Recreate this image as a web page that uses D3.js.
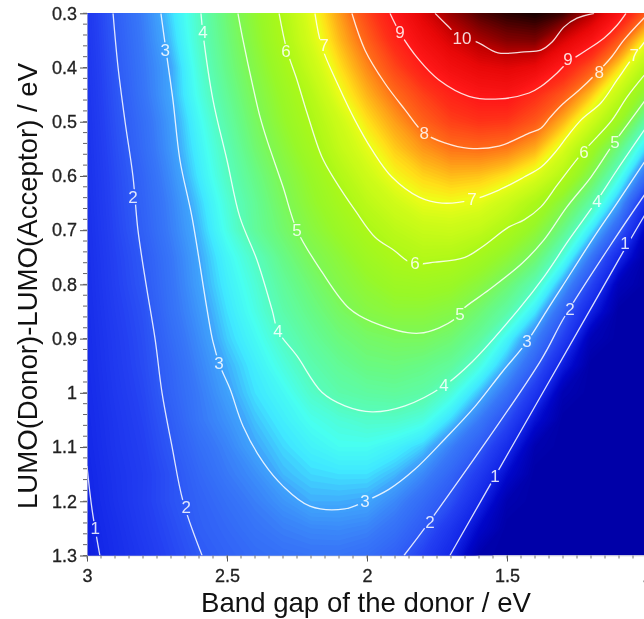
<!DOCTYPE html>
<html><head><meta charset="utf-8">
<script src="https://cdn.jsdelivr.net/npm/d3@7"></script>
<style>html,body{margin:0;padding:0;background:#fff;overflow:hidden}svg{display:block;filter:blur(0.6px)}</style>
</head><body><svg id="c" width="644" height="619"></svg>
<script>
const bandGaps = d3.range(21).map(i => +(3 - i * 0.1).toFixed(1));
const offsets = d3.range(21).map(j => +(0.3 + j * 0.05).toFixed(2));
const xTicks = [3, 2.5, 2, 1.5, 1];
const yTicks = [0.3, 0.4, 0.5, 0.6, 0.7, 0.8, 0.9, 1, 1.1, 1.2, 1.3];
const xTitle = "Band gap of the donor / eV";
const yTitle = "LUMO(Donor)-LUMO(Acceptor) / eV";
// efficiency; one row per LUMO offset, one column per band gap
const eta030 = [1.4,2.05,2.6,3.25,3.95,4.7,5.4,6.1,6.9,7.65,8.4,9.1,9.75,10.3,10.7,10.9,11,10.8,10.1,9.2,8.1];
const eta035 = [1.38,2,2.55,3.15,3.9,4.6,5.3,6,6.75,7.45,8.1,8.8,9.35,9.8,10.15,10.4,10.45,9.8,9.2,8.2,7];
const eta040 = [1.35,1.95,2.5,3,3.8,4.5,5.15,5.8,6.5,7.2,7.8,8.4,8.95,9.35,9.6,9.7,9.55,8.95,8.25,7.25,6.1];
const eta045 = [1.33,1.9,2.45,3,3.7,4.35,5,5.6,6.2,6.95,7.5,8,8.45,8.85,9.1,9.15,8.7,8.2,7.4,6.4,5.2];
const eta050 = [1.3,1.85,2.35,2.9,3.55,4.2,4.85,5.45,6,6.6,7.2,7.65,8.1,8.45,8.6,8.55,8.2,7.5,6.65,5.6,4.1];
const eta055 = [1.28,1.8,2.3,2.85,3.45,4.05,4.7,5.25,5.8,6.4,6.9,7.35,7.7,7.95,8,7.9,7.55,6.8,5.75,4.55,3.2];
const eta060 = [1.26,1.75,2.2,2.75,3.35,3.95,4.5,5.05,5.55,6.1,6.6,7.05,7.3,7.45,7.4,7.2,6.85,6.15,5,3.75,2.3];
const eta065 = [1.24,1.72,2.15,2.65,3.2,3.8,4.35,4.9,5.4,5.85,6.3,6.65,6.95,7,6.9,6.55,6,5.2,4.2,2.95,1.1];
const eta070 = [1.22,1.68,2.1,2.6,3.1,3.7,4.3,4.75,5.2,5.6,6,6.3,6.5,6.55,6.4,6,5.4,4.5,3.35,2.1,0.35];
const eta075 = [1.2,1.63,2,2.5,3,3.5,3.95,4.5,4.95,5.3,5.7,6,6.15,6.1,5.8,5.35,4.75,3.75,2.5,1.05,0];
const eta080 = [1.18,1.6,1.95,2.45,2.95,3.4,3.8,4.3,4.7,5.1,5.4,5.65,5.7,5.6,5.25,4.7,4.05,2.95,1.7,0.3,0];
const eta085 = [1.16,1.55,1.87,2.4,2.85,3.3,3.7,4.15,4.5,4.85,5.15,5.3,5.3,5.15,4.7,4.2,3.35,2.2,0.95,0,0];
const eta090 = [1.14,1.5,1.82,2.3,2.75,3.2,3.55,3.95,4.3,4.6,4.8,4.9,4.9,4.7,4.3,3.5,2.65,1.6,0.25,0,0];
const eta095 = [1.12,1.47,1.78,2.2,2.65,3.05,3.4,3.75,4.1,4.35,4.55,4.6,4.5,4.3,3.75,3,2.1,0.85,0,0,0];
const eta100 = [1.09,1.43,1.72,2.15,2.55,2.95,3.3,3.55,3.9,4.15,4.25,4.3,4.2,3.8,3.15,2.4,1.4,0.2,0,0,0];
const eta105 = [1.06,1.38,1.66,2.05,2.5,2.8,3.15,3.4,3.65,3.8,3.9,3.9,3.75,3.25,2.55,1.8,0.7,0,0,0,0];
const eta110 = [1.03,1.35,1.6,1.97,2.35,2.65,3,3.25,3.45,3.6,3.6,3.45,3.2,2.6,2.05,1.15,0.15,0,0,0,0];
const eta115 = [0.99,1.3,1.55,1.87,2.23,2.53,2.77,3.1,3.25,3.3,3.3,3.1,2.7,2.2,1.5,0.6,0,0,0,0,0];
const eta120 = [0.95,1.27,1.56,1.87,2.13,2.37,2.6,2.83,3.05,3.05,3,2.7,2.3,1.85,1.05,0.15,0,0,0,0,0];
const eta125 = [0.91,1.2,1.5,1.78,2.07,2.25,2.45,2.6,2.7,2.72,2.65,2.4,2,1.35,0.55,0,0,0,0,0,0];
const eta130 = [0.86,1.15,1.42,1.7,1.97,2.15,2.3,2.4,2.45,2.45,2.35,2.1,1.6,1,0.1,0,0,0,0,0,0];
const etaRows = [eta030,eta035,eta040,eta045,eta050,eta055,eta060,eta065,eta070,eta075,eta080,eta085,eta090,eta095,eta100,eta105,eta110,eta115,eta120,eta125,eta130];
// iso-efficiency lines as [band gap, offset] pairs
const iso1a = [[3,1.135],[2.982,1.215],[2.954,1.3]];
const iso1b = [[1.704,1.3],[1.543,1.154],[1.189,0.834],[1.075,0.731],[1,0.665]];
const iso2a = [[2.907,0.3],[2.889,0.4],[2.864,0.5],[2.836,0.6],[2.818,0.7],[2.789,0.8],[2.757,0.9],[2.732,1],[2.696,1.1],[2.657,1.2],[2.589,1.3]];
const iso2b = [[1.868,1.3],[1.779,1.239],[1.379,0.94],[1.297,0.862],[1.118,0.718],[1,0.628]];
const iso3 = [[2.736,0.3],[2.718,0.368],[2.693,0.46],[2.668,0.571],[2.625,0.676],[2.571,0.847],[2.55,0.906],[2.525,0.95],[2.489,0.993],[2.443,1.061],[2.371,1.128],[2.3,1.172],[2.204,1.209],[2.079,1.214],[2.007,1.2],[1.922,1.178],[1.829,1.141],[1.722,1.085],[1.614,1.025],[1.518,0.962],[1.429,0.906],[1.354,0.845],[1.304,0.805],[1.196,0.718],[1.107,0.65],[1,0.567]];
const iso4 = [[2.593,0.3],[2.586,0.336],[2.55,0.46],[2.5,0.571],[2.454,0.676],[2.393,0.755],[2.339,0.847],[2.318,0.886],[2.25,0.932],[2.161,0.999],[2.079,1.024],[1.982,1.035],[1.864,1.024],[1.725,0.987],[1.625,0.943],[1.457,0.845],[1.368,0.786],[1.279,0.718],[1.182,0.648],[1.107,0.589],[1,0.508]];
const iso5 = [[2.461,0.3],[2.443,0.349],[2.407,0.436],[2.382,0.491],[2.357,0.534],[2.3,0.62],[2.25,0.7],[2.161,0.777],[2.064,0.844],[1.982,0.869],[1.814,0.89],[1.686,0.864],[1.661,0.847],[1.564,0.81],[1.446,0.761],[1.368,0.718],[1.286,0.657],[1.2,0.602],[1.118,0.539],[1.05,0.491],[1,0.456]];
const iso6 = [[2.314,0.3],[2.286,0.368],[2.25,0.423],[2.214,0.484],[2.161,0.565],[2.114,0.608],[2.043,0.663],[1.971,0.713],[1.904,0.737],[1.839,0.761],[1.757,0.759],[1.65,0.75],[1.589,0.731],[1.493,0.694],[1.439,0.681],[1.379,0.657],[1.321,0.617],[1.232,0.558],[1.125,0.497],[1.071,0.454],[1,0.408]];
const iso7 = [[2.186,0.3],[2.161,0.362],[2.1,0.436],[2.043,0.497],[1.982,0.552],[1.911,0.602],[1.814,0.639],[1.732,0.65],[1.625,0.644],[1.529,0.626],[1.439,0.602],[1.379,0.584],[1.321,0.552],[1.286,0.528],[1.236,0.497],[1.164,0.465],[1.107,0.423],[1.057,0.386],[1,0.347]];
const iso8 = [[2.054,0.3],[2.007,0.368],[1.936,0.429],[1.864,0.478],[1.796,0.521],[1.722,0.539],[1.636,0.549],[1.529,0.545],[1.421,0.521],[1.379,0.512],[1.346,0.492],[1.3,0.467],[1.243,0.442],[1.179,0.41],[1.129,0.382],[1.082,0.349],[1,0.303]];
const iso9 = [[1.918,0.3],[1.882,0.336],[1.814,0.386],[1.743,0.423],[1.636,0.453],[1.529,0.458],[1.421,0.447],[1.379,0.435],[1.321,0.41],[1.286,0.392],[1.225,0.371],[1.154,0.346],[1.107,0.322],[1.075,0.3]];
const iso10 = [[1.757,0.3],[1.714,0.322],[1.668,0.344],[1.607,0.353],[1.532,0.373],[1.439,0.371],[1.379,0.368],[1.339,0.353],[1.296,0.325],[1.25,0.309],[1.189,0.3]];
const isoLines = [iso1a,iso1b,iso2a,iso2b,iso3,iso4,iso5,iso6,iso7,iso8,iso9,iso10];
// contour labels: level, band gap, offset
const labelLevel = [1,1,1,2,2,2,2,3,3,3,3,4,4,4,4,5,5,5,6,6,6,7,7,7,8,8,9,9,10];
const labelGap = [2.971,1.543,1.079,2.836,2.646,1.775,1.275,2.721,2.529,2.007,1.429,2.586,2.318,1.725,1.179,2.25,1.668,1.114,2.289,1.829,1.225,2.154,1.625,1.046,1.796,1.171,1.882,1.282,1.661];
const labelOffset = [1.251,1.155,0.724,0.639,1.211,1.239,0.847,0.368,0.945,1.2,0.906,0.336,0.886,0.987,0.648,0.7,0.855,0.539,0.371,0.761,0.556,0.36,0.644,0.377,0.521,0.41,0.336,0.386,0.347];
// colour ramp
const rampStops = [0,0.5,1,1.6,2,2.5,3,3.3,3.6,4,4.5,5,5.5,6,6.7,7,7.2,7.5,8,8.6,9,9.6,10,10.5,11];
const rampColors = ["#0000a8","#0006c8","#1428e8","#2440f2","#2f5cf6","#3878f8","#40a8fc","#40e8ff","#48fff0","#58fcb8","#68fa84","#80f850","#98f828","#acf818","#d4fc18","#f0fc18","#ffe018","#ffb018","#ff6818","#ff3018","#ff1818","#e80808","#c00000","#700000","#100000"];

const svg = d3.select("#c");
const L = 87, R = 647, T = 13.3, B = 555.5;
const x = d3.scaleLinear().domain([3, 1]).range([L, R]);
const y = d3.scaleLinear().domain([0.3, 1.3]).range([T, B]);
const color = d3.scaleLinear().domain(rampStops).range(rampColors).clamp(true);

const nx = bandGaps.length, ny = offsets.length;
const flat = etaRows.flat();
const proj = d3.geoTransform({point(cx, cy) {
  this.stream.point(x(3 - 0.1 * (cx - 0.5)), y(0.3 + 0.05 * (cy - 0.5)));
}});
const path = d3.geoPath(proj);
const gen = d3.contours().size([nx, ny]);

svg.append("defs").append("clipPath").attr("id", "plot").append("rect")
  .attr("x", L).attr("y", T).attr("width", R - L).attr("height", B - T);
const mask = svg.select("defs").append("mask").attr("id", "gaps")
  .attr("maskUnits", "userSpaceOnUse").attr("x", 0).attr("y", 0).attr("width", 644).attr("height", 619);
mask.append("rect").attr("width", 644).attr("height", 619).attr("fill", "#fff");
mask.selectAll("circle").data(labelLevel).join("circle")
  .attr("cx", (d, i) => x(labelGap[i])).attr("cy", (d, i) => y(labelOffset[i]))
  .attr("r", d => d === 10 ? 14 : 8).attr("fill", "#000");

const plot = svg.append("g").attr("clip-path", "url(#plot)");
plot.append("rect").attr("x", L).attr("y", T).attr("width", R - L).attr("height", B - T).attr("fill", color(0));
const thresholds = d3.range(0.05, 11.01, 0.05);
plot.append("g").selectAll("path").data(gen.thresholds(thresholds)(flat)).join("path")
  .attr("d", path).attr("fill", d => color(d.value));
const line = d3.line().x(d => x(d[0])).y(d => y(d[1])).curve(d3.curveCatmullRom);
plot.append("g").attr("mask", "url(#gaps)").selectAll("path").data(isoLines).join("path")
  .attr("d", line).attr("fill", "none").attr("stroke", "#fff").attr("stroke-opacity", 0.85).attr("stroke-width", 1.3);

svg.append("g").selectAll("text").data(labelLevel).join("text")
  .attr("x", (d, i) => x(labelGap[i])).attr("y", (d, i) => y(labelOffset[i]))
  .attr("text-anchor", "middle").attr("dominant-baseline", "central")
  .attr("font-family", "Liberation Sans").attr("font-size", 17).attr("fill", "#fff").attr("fill-opacity", 0.85)
  .text(d => d);

// axes
const axisColor = "#555";
const xAxis = d3.axisBottom(x).tickValues(xTicks).tickFormat(d3.format("~g")).tickSize(6).tickPadding(8);
const yAxis = d3.axisLeft(y).tickValues(yTicks).tickFormat(d3.format("~g")).tickSize(7).tickPadding(3);
const gx = svg.append("g").attr("transform", `translate(0,${B})`).call(xAxis);
const gy = svg.append("g").attr("transform", `translate(${L},0)`).call(yAxis);
for (const g of [gx, gy]) {
  g.select(".domain").attr("stroke", "#ccc").attr("stroke-width", 0.6);
  g.selectAll(".tick line").attr("stroke", axisColor);
  g.selectAll("text").attr("font-family", "Liberation Sans").attr("font-size", 18).attr("fill", "#222")
    .attr("stroke", "#222").attr("stroke-width", 0.3);
}
svg.append("g").attr("transform", `translate(0,${B})`).selectAll("line").data(d3.range(1, 3.0001, 0.05)).join("line")
  .attr("x1", d => x(d)).attr("x2", d => x(d)).attr("y1", 0).attr("y2", 3).attr("stroke", "#777");
svg.append("g").attr("transform", `translate(${L},0)`).selectAll("line").data(d3.range(0.3, 1.3001, 0.02)).join("line")
  .attr("y1", d => y(d)).attr("y2", d => y(d)).attr("x1", 0).attr("x2", -4).attr("stroke", "#666");
svg.append("text").attr("x", 366).attr("y", 611.5).attr("text-anchor", "middle")
  .attr("font-family", "Liberation Sans").attr("font-size", 27.6).attr("fill", "#111").text(xTitle);
svg.append("text").attr("transform", "translate(37,286) rotate(-90)").attr("text-anchor", "middle")
  .attr("font-family", "Liberation Sans").attr("font-size", 27.6).attr("fill", "#111").text(yTitle);
</script></body></html>
